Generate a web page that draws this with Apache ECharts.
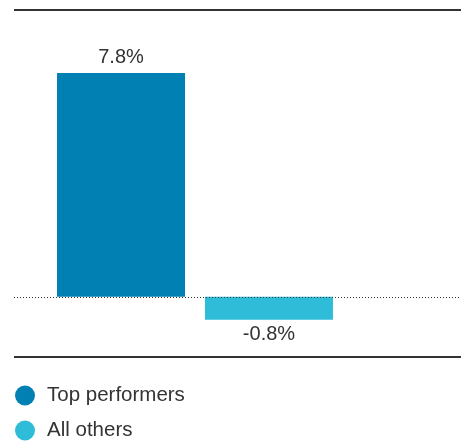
<!DOCTYPE html>
<html>
<head>
<meta charset="utf-8">
<script src="https://cdn.jsdelivr.net/npm/echarts@6/dist/echarts.min.js"></script>
<style>
  html, body { margin: 0; padding: 0; background: #fff; }
  #chart { width: 461px; height: 441px; }
</style>
</head>
<body>
<div id="chart"></div>
<script>
const categories = ["Growth"];
const seriesNames = ["Top performers", "All others"];
const topValues = [7.8];
const otherValues = [-0.8];
const colors = ["#0080b3", "#2ebcd9"];

const chart = echarts.init(document.getElementById("chart"));

function labelFmt(p) {
  return p.value.toFixed(1) + "%";
}

const font = "'Liberation Sans', Arial, sans-serif";

chart.setOption({
  animation: false,
  textStyle: { fontFamily: font },
  grid: { left: 14, right: 85, top: 10, height: 347 },
  xAxis: {
    type: "category",
    data: categories,
    axisLine: { show: false },
    axisTick: { show: false },
    axisLabel: { show: false }
  },
  yAxis: {
    type: "value",
    min: -2.1,
    max: 10,
    axisLine: { show: false },
    axisTick: { show: false },
    axisLabel: { show: false },
    splitLine: { show: false }
  },
  legend: {
    orient: "vertical",
    left: 15,
    top: 385,
    padding: 0,
    itemWidth: 20,
    itemHeight: 20,
    itemGap: 14,
    icon: "circle",
    textStyle: { fontSize: 20.5, color: "#333", fontFamily: font, padding: [0, 0, 0, 7] },
    data: seriesNames
  },
  series: [
    {
      name: seriesNames[0],
      type: "bar",
      data: topValues,
      barWidth: 128,
      barGap: "15.6%",
      itemStyle: { color: colors[0] },
      label: { show: true, position: "top", distance: 6, fontSize: 20, color: "#333", formatter: labelFmt }
    },
    {
      name: seriesNames[1],
      type: "bar",
      data: otherValues,
      barWidth: 128,
      itemStyle: { color: colors[1] },
      label: { show: true, position: "bottom", distance: 5, fontSize: 20, color: "#333", formatter: labelFmt }
    }
  ]
});

// decoration rules: top/bottom frame lines and dotted zero line
const y0 = chart.convertToPixel({ yAxisIndex: 0 }, 0);
const yTop = chart.convertToPixel({ yAxisIndex: 0 }, 10);
const yBot = chart.convertToPixel({ yAxisIndex: 0 }, -2.1);
chart.setOption({
  graphic: [
    { type: "line", shape: { x1: 14, y1: yTop, x2: 461, y2: yTop }, style: { stroke: "#333", lineWidth: 2 }, z: 10 },
    { type: "line", shape: { x1: 14, y1: yBot, x2: 461, y2: yBot }, style: { stroke: "#333", lineWidth: 2 }, z: 10 },
    { type: "line", shape: { x1: 14, y1: Math.round(y0) + 0.5, x2: 461, y2: Math.round(y0) + 0.5 }, style: { stroke: "#333", lineWidth: 1, lineDash: [1, 2] }, z: 10 }
  ]
});
</script>
</body>
</html>
